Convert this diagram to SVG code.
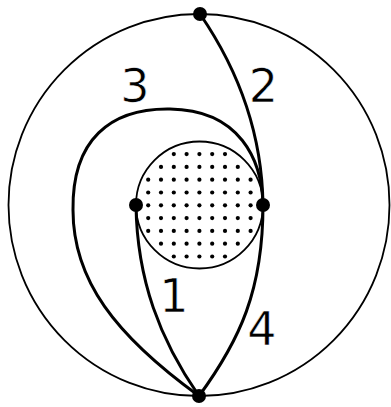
<svg xmlns="http://www.w3.org/2000/svg" width="391" height="407" viewBox="0 0 391 407">
<style>
.ring{fill:none;stroke:#000;stroke-width:1.8}
.curve{fill:none;stroke:#000;stroke-width:3;stroke-linecap:round}
.node{fill:#000}
.d{fill:#000}
.lbl{font-family:"DejaVu Sans",sans-serif;font-size:46px;fill:#000;text-anchor:middle;stroke:#fff;stroke-width:0.6}
</style>
<defs>
<circle id="dt" r="2.1" class="d"/>
</defs>
<g id="outer-circle"><ellipse class="ring" cx="199" cy="205" rx="190.5" ry="191"/></g>
<g id="inner-disc">
<circle class="ring" cx="199.5" cy="205" r="63.5" fill="#fff"/>
<g id="dots" transform="translate(199.4,205.3)">
<use href="#dt" x="-25.6" y="-51.2"/><use href="#dt" x="-12.8" y="-51.2"/><use href="#dt" x="0" y="-51.2"/><use href="#dt" x="12.8" y="-51.2"/><use href="#dt" x="25.6" y="-51.2"/>
<use href="#dt" x="-38.4" y="-38.4"/><use href="#dt" x="-25.6" y="-38.4"/><use href="#dt" x="-12.8" y="-38.4"/><use href="#dt" x="0" y="-38.4"/><use href="#dt" x="12.8" y="-38.4"/><use href="#dt" x="25.6" y="-38.4"/><use href="#dt" x="38.4" y="-38.4"/>
<use href="#dt" x="-51.2" y="-25.6"/><use href="#dt" x="-38.4" y="-25.6"/><use href="#dt" x="-25.6" y="-25.6"/><use href="#dt" x="-12.8" y="-25.6"/><use href="#dt" x="0" y="-25.6"/><use href="#dt" x="12.8" y="-25.6"/><use href="#dt" x="25.6" y="-25.6"/><use href="#dt" x="38.4" y="-25.6"/><use href="#dt" x="51.2" y="-25.6"/>
<use href="#dt" x="-51.2" y="-12.8"/><use href="#dt" x="-38.4" y="-12.8"/><use href="#dt" x="-25.6" y="-12.8"/><use href="#dt" x="-12.8" y="-12.8"/><use href="#dt" x="0" y="-12.8"/><use href="#dt" x="12.8" y="-12.8"/><use href="#dt" x="25.6" y="-12.8"/><use href="#dt" x="38.4" y="-12.8"/><use href="#dt" x="51.2" y="-12.8"/>
<use href="#dt" x="-51.2" y="0"/><use href="#dt" x="-38.4" y="0"/><use href="#dt" x="-25.6" y="0"/><use href="#dt" x="-12.8" y="0"/><use href="#dt" x="0" y="0"/><use href="#dt" x="12.8" y="0"/><use href="#dt" x="25.6" y="0"/><use href="#dt" x="38.4" y="0"/><use href="#dt" x="51.2" y="0"/>
<use href="#dt" x="-51.2" y="12.8"/><use href="#dt" x="-38.4" y="12.8"/><use href="#dt" x="-25.6" y="12.8"/><use href="#dt" x="-12.8" y="12.8"/><use href="#dt" x="0" y="12.8"/><use href="#dt" x="12.8" y="12.8"/><use href="#dt" x="25.6" y="12.8"/><use href="#dt" x="38.4" y="12.8"/><use href="#dt" x="51.2" y="12.8"/>
<use href="#dt" x="-51.2" y="25.6"/><use href="#dt" x="-38.4" y="25.6"/><use href="#dt" x="-25.6" y="25.6"/><use href="#dt" x="-12.8" y="25.6"/><use href="#dt" x="0" y="25.6"/><use href="#dt" x="12.8" y="25.6"/><use href="#dt" x="25.6" y="25.6"/><use href="#dt" x="38.4" y="25.6"/><use href="#dt" x="51.2" y="25.6"/>
<use href="#dt" x="-38.4" y="38.4"/><use href="#dt" x="-25.6" y="38.4"/><use href="#dt" x="-12.8" y="38.4"/><use href="#dt" x="0" y="38.4"/><use href="#dt" x="12.8" y="38.4"/><use href="#dt" x="25.6" y="38.4"/><use href="#dt" x="38.4" y="38.4"/>
<use href="#dt" x="-25.6" y="51.2"/><use href="#dt" x="-12.8" y="51.2"/><use href="#dt" x="0" y="51.2"/><use href="#dt" x="12.8" y="51.2"/><use href="#dt" x="25.6" y="51.2"/>
</g>
</g>
<g id="connectors">
<path id="c2" class="curve" d="M200,14 C235,65 262,130 263,205"/>
<path id="c3" class="curve" d="M263,205 C262,160 240,110 170,109 C110,108 72,140 73,210 C73,280 115,335 199,396"/>
<path id="c1" class="curve" d="M136,205 C137,280 160,340 199,396"/>
<path id="c4" class="curve" d="M263,205 C263,290 240,340 199,396"/>
</g>
<g id="node-top"><circle class="node" cx="200" cy="14" r="7"/></g>
<g id="node-bottom"><circle class="node" cx="199" cy="396" r="7"/></g>
<g id="node-left"><circle class="node" cx="136" cy="205" r="7"/></g>
<g id="node-right"><circle class="node" cx="263" cy="205" r="7"/></g>
<g id="labels">
<text class="lbl" x="135" y="102">3</text>
<text class="lbl" x="263.5" y="102">2</text>
<text class="lbl" x="174" y="312">1</text>
<text class="lbl" x="262" y="345">4</text>
</g>
</svg>
